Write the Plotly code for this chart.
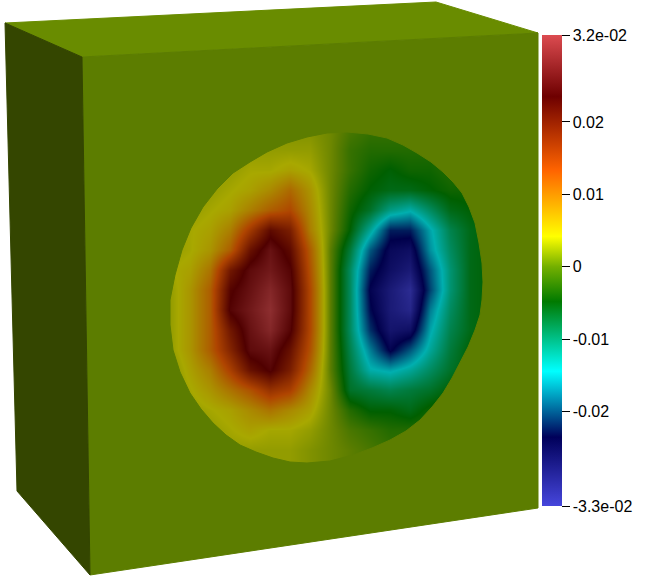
import plotly.graph_objects as go

# Field sampled on the visible face (values in units of 1e-3)
grid_x = [170, 190, 210, 230, 250, 270, 290, 310, 330, 350, 370, 390, 410, 430, 450, 470, 490]
grid_y = [130, 150, 170, 190, 210, 230, 250, 270, 290, 310, 330, 350, 370, 390, 410, 430, 450, 470]
field = [
    [1, 1, 1, 1, 1, 2, 2, 2, 1, -1, -2, -2, -2, -2, -2, -2, -2],
    [2, 2, 2, 2, 3, 3, 3, 3, 1, -2, -3, -3, -3, -3, -3, -3, -3],
    [2, 2, 3, 3, 4, 4, 5, 4, 1, -2, -4, -5, -4, -4, -3, -3, -3],
    [3, 3, 3, 4, 5, 7, 10, 6, 1, -3, -5, -6, -6, -5, -4, -4, -4],
    [3, 3, 4, 5, 8, 11, 13, 7, 1, -4, -7, -12, -14, -10, -6, -5, -5],
    [3, 4, 5, 8, 15, 22, 19, 8, 1, -5, -13, -22, -22, -15, -9, -6, -5],
    [3, 4, 6, 11, 21, 26, 22, 11, 0, -8, -19, -25, -26, -16, -10, -6, -5],
    [4, 5, 9, 20, 25, 27, 24, 12, 0, -10, -22, -26, -28, -19, -11, -6, -5],
    [3, 6, 11, 23, 26, 29, 25, 13, 0, -10, -24, -28, -31, -20, -11, -6, -5],
    [3, 6, 11, 24, 27, 30, 25, 13, 0, -10, -23, -28, -30, -17, -10, -6, -5],
    [3, 6, 11, 20, 26, 29, 24, 13, 0, -10, -21, -27, -26, -15, -9, -6, -5],
    [3, 6, 11, 18, 25, 26, 21, 12, 0, -9, -17, -24, -19, -13, -8, -5, -4],
    [2, 5, 8, 14, 21, 24, 19, 10, 0, -8, -14, -15, -13, -10, -7, -5, -4],
    [2, 4, 6, 9, 12, 16, 14, 7, 1, -7, -8, -9, -8, -7, -5, -4, -3],
    [2, 3, 4, 5, 7, 9, 7, 5, 1, -3, -5, -5, -6, -4, -3, -3, -3],
    [2, 2, 3, 4, 5, 4, 4, 3, 1, -1, -2, -3, -3, -3, -2, -2, -2],
    [2, 2, 3, 3, 3, 3, 3, 2, 1, 0, -1, -2, -2, -2, -2, -2, -2],
    [2, 2, 3, 3, 3, 3, 3, 2, 1, 0, -1, -2, -2, -2, -2, -2, -2],
]

# Outline of the disc and the cube faces, in picture pixels
disc_x = [347, 368, 387, 403, 417, 431, 443, 453, 462, 469, 475, 479, 482, 483, 482, 480, 475, 468, 460, 452,
          443, 432, 420, 406, 390, 372, 353, 330, 307, 290, 273, 256, 240, 226, 213, 201, 190, 180, 173, 170,
          170, 175, 182, 191, 203, 217, 233, 250, 267, 287, 307, 327]
disc_y = [132, 134, 138, 145, 153, 162, 172, 182, 193, 207, 223, 243, 263, 282, 300, 315, 330, 347, 363, 378,
          393, 407, 420, 431, 440, 448, 455, 461, 463, 462, 458, 452, 445, 435, 423, 409, 393, 372, 350, 325,
          300, 275, 250, 228, 207, 189, 173, 162, 152, 143, 137, 133]
front_x = [82, 538, 538, 90]
front_y = [57, 33, 508, 575]
top_x = [5, 436, 538, 82]
top_y = [23, 2, 33, 57]
left_x = [5, 82, 90, 17]
left_y = [23, 57, 575, 491]

# Colour legend
value_min = -0.033
value_max = 0.032
tick_values = [0.032, 0.02, 0.01, 0, -0.01, -0.02, -0.033]
tick_labels = ["3.2e-02", "0.02", "0.01", "0", "-0.01", "-0.02", "-3.3e-02"]
stop_values = [-0.033, -0.0235, -0.0144, -0.0048, 0, 0.0042, 0.0133, 0.0235, 0.032]
bar_colors = ["rgb(70,70,220)", "rgb(0,0,90)", "rgb(0,255,255)", "rgb(0,122,0)", "rgb(115,175,0)",
              "rgb(255,255,0)", "rgb(255,100,0)", "rgb(110,0,0)", "rgb(220,75,80)"]
surface_colors = ["rgb(55,55,165)", "rgb(0,0,75)", "rgb(0,175,175)", "rgb(0,95,0)", "rgb(92,125,0)",
                  "rgb(168,168,0)", "rgb(175,68,0)", "rgb(80,0,0)", "rgb(160,60,62)"]

FRONT = "rgb(92,125,0)"
TOP = "rgb(105,140,0)"
LEFT = "rgb(52,70,0)"


def scale(colors):
    return [[(v - value_min) / (value_max - value_min), c] for v, c in zip(stop_values, colors)]


fig = go.Figure()
fig.add_trace(go.Heatmap(
    x=grid_x, y=grid_y, z=[[v * 1e-3 for v in row] for row in field],
    zmin=value_min, zmax=value_max, colorscale=scale(surface_colors),
    zsmooth="best", showscale=False, hoverinfo="skip",
))
# Top face first, then front face with the disc cut out (opposite winding makes the hole)
fig.add_trace(go.Scatter(
    x=top_x + top_x[:1], y=top_y + top_y[:1], mode="lines", fill="toself", fillcolor=TOP,
    line=dict(width=1, color=TOP), hoverinfo="skip",
))
fig.add_trace(go.Scatter(
    x=front_x + front_x[:1] + [None] + disc_x[::-1] + disc_x[-1:],
    y=front_y + front_y[:1] + [None] + disc_y[::-1] + disc_y[-1:],
    mode="lines", fill="toself", fillcolor=FRONT, line=dict(width=1, color=FRONT), hoverinfo="skip",
))
fig.add_trace(go.Scatter(
    x=left_x + left_x[:1], y=left_y + left_y[:1], mode="lines", fill="toself", fillcolor=LEFT,
    line=dict(width=1, color=LEFT), hoverinfo="skip",
))
# Legend carrier: off-range point, only its colour bar shows
fig.add_trace(go.Scatter(
    x=[-100, -100], y=[-100, -100], mode="markers", hoverinfo="skip",
    marker=dict(
        color=[value_min, value_max], cmin=value_min, cmax=value_max, colorscale=scale(bar_colors),
        showscale=True,
        colorbar=dict(
            x=542 / 652, xanchor="left", xpad=0, thickness=20, thicknessmode="pixels",
            y=1 - 35 / 582, yanchor="top", ypad=0, len=471 / 582, lenmode="fraction",
            outlinewidth=0, borderwidth=0,
            tickmode="array", tickvals=tick_values, ticktext=tick_labels,
            ticks="outside", ticklen=8, tickwidth=1, tickcolor="black",
            tickfont=dict(family="Liberation Sans", size=16, color="black"),
        ),
    ),
))
fig.update_layout(
    width=652, height=582, margin=dict(l=0, r=0, t=0, b=0), showlegend=False,
    paper_bgcolor="white", plot_bgcolor="white",
    xaxis=dict(range=[0, 652], visible=False, fixedrange=True),
    yaxis=dict(range=[582, 0], visible=False, fixedrange=True),
)
fig.write_html("out.html", config={"displayModeBar": False},
               post_script="document.body.style.margin='0';")
